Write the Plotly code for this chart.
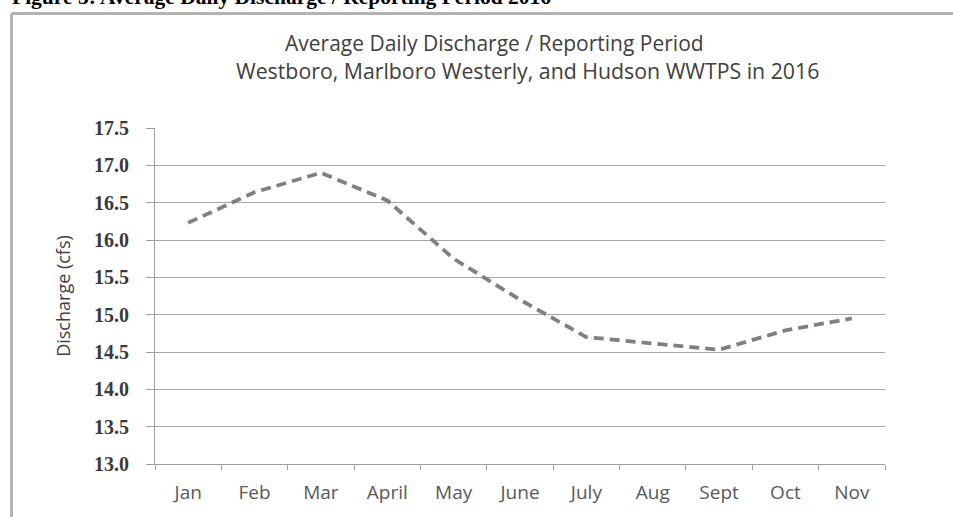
import plotly.graph_objects as go

# Monthly average daily discharge (cfs), 2016
months = ["Jan", "Feb", "Mar", "April", "May", "June", "July", "Aug", "Sept", "Oct", "Nov"]
discharge = [16.23, 16.64, 16.90, 16.53, 15.75, 15.20, 14.70, 14.62, 14.53, 14.79, 14.95]
y_ticks = [13.0, 13.5, 14.0, 14.5, 15.0, 15.5, 16.0, 16.5, 17.0, 17.5]

title_line1 = "Average Daily Discharge / Reporting Period"
title_line2 = "Westboro, Marlboro Westerly, and Hudson WWTPS in 2016"
caption = "Figure 3: Average Daily Discharge / Reporting Period 2016"

W, H = 953, 517
ML, MR, MT, MB = 155, 68, 128, 53
PW, PH = W - ML - MR, H - MT - MB


def px_x(x):
    return (x - ML) / PW


def px_y(y):
    return (H - MB - y) / PH


fig = go.Figure()
fig.add_trace(go.Scatter(
    x=months, y=discharge, mode="lines",
    line=dict(color="#808080", width=3.8, dash="10px,6px"),
    hoverinfo="x+y", showlegend=False,
))

fig.update_layout(
    width=W, height=H,
    margin=dict(l=ML, r=MR, t=MT, b=MB),
    paper_bgcolor="white", plot_bgcolor="white",
    xaxis=dict(
        type="category", tickson="boundaries",
        ticks="outside", ticklen=5, tickcolor="#a0a0a0",
        showline=True, linecolor="#a0a0a0", linewidth=1,
        showgrid=False,
        ticklabelstandoff=11,
        tickfont=dict(family="Open Sans", size=19, color="#595959"),
        range=[-0.5, len(months) - 0.5],
    ),
    yaxis=dict(
        range=[13.0, 17.5], tickvals=y_ticks,
        ticktext=[f"{v:.1f}" for v in y_ticks],
        ticks="outside", ticklen=8, tickcolor="#a0a0a0",
        showline=True, linecolor="#a0a0a0", linewidth=1,
        showgrid=True, gridcolor="#a6a6a6", gridwidth=1,
        zeroline=False,
        ticklabelstandoff=13,
        tickfont=dict(family="Liberation Serif", size=20, weight="bold", color="#3a3a3a"),
        title=dict(text="Discharge (cfs)", standoff=18,
                   font=dict(family="Open Sans", size=18, color="#404040")),
    ),
)

# Two-line chart title
for text, cx, cy, fs in [(title_line1, 494, 43, 21), (title_line2, 527, 71, 21.3)]:
    fig.add_annotation(
        text=text, xref="paper", yref="paper", x=px_x(cx), y=px_y(cy),
        xanchor="center", yanchor="middle", showarrow=False,
        font=dict(family="Open Sans", size=fs, color="#404040"),
    )

# Figure caption above the chart frame
fig.add_annotation(
    text=f"<b>{caption}</b>",
    xref="paper", yref="paper", x=px_x(10), y=px_y(11),
    xanchor="left", yanchor="bottom", showarrow=False,
    font=dict(family="Liberation Serif", size=21.5, color="black"),
)

# Chart frame (top and left edges)
fig.add_shape(type="line", xref="paper", yref="paper",
              x0=px_x(11.5), x1=px_x(W + 5), y0=px_y(13.5), y1=px_y(13.5),
              line=dict(color="#b3b3b3", width=3))
fig.add_shape(type="line", xref="paper", yref="paper",
              x0=px_x(11.5), x1=px_x(11.5), y0=px_y(13.5), y1=px_y(H + 5),
              line=dict(color="#b3b3b3", width=3))

fig.write_html("out.html")
